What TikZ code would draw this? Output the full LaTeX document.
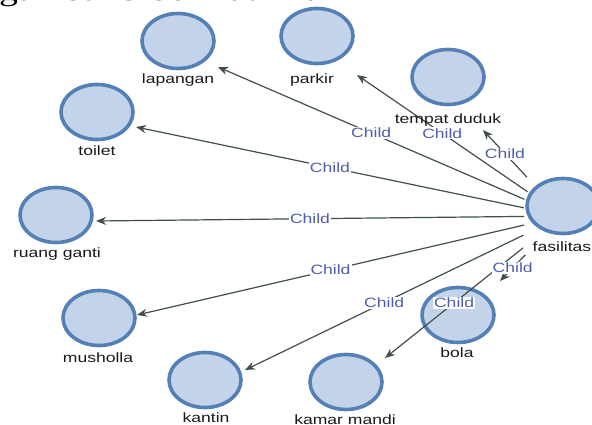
\documentclass[tikz,border=0pt]{standalone}
\usepackage{fontspec}
\setmainfont{Liberation Sans}
\newfontfamily\topserif{Liberation Serif}
\usepackage{graphicx}
\usetikzlibrary{shapes.geometric,arrows.meta,calc}
\definecolor{nodefill}{RGB}{194,211,234}
\definecolor{nodeline}{RGB}{84,128,182}
\definecolor{edgecol}{RGB}{64,80,72}
\definecolor{childcol}{RGB}{78,94,168}
\newcommand{\wide}[1]{\scalebox{1.3}[1]{#1}}
\tikzset{
  entity/.style={ellipse, draw=nodeline, fill=nodefill, line width=3.6pt,
    minimum width=72pt, minimum height=55pt, inner sep=0pt},
  namelbl/.style={font=\fontsize{13.5}{15}\selectfont, text=black!90, inner sep=0pt},
  rel/.style={draw=edgecol, line width=1.2pt, -{Stealth[length=10pt,width=8pt]}},
  childlbl/.style={font=\fontsize{13.5}{15}\selectfont, text=childcol, fill=white, inner sep=1pt},
}
\begin{document}
\begin{tikzpicture}[x=1pt,y=-1pt]
\useasboundingbox (0,0) rectangle (592,425);
\clip (0,0) rectangle (592,425);
% cut-off line of text at the top
\node[anchor=base west, inner sep=0pt, font=\topserif\fontsize{29}{30}\selectfont] (topline) at (-1,0.5) {\scalebox{1.3}[1]{gambar 9 berikut ini.}};
% entities
\node[entity] (lap) at (178,41) {};
\node[entity] (par) at (317,36) {};
\node[entity] (tem) at (448,77) {};
\node[entity] (toi) at (97,112) {};
\node[entity] (rua) at (56,215) {};
\node[entity] (mus) at (99,318) {};
\node[entity] (kan) at (205,380) {};
\node[entity] (kam) at (346,382) {};
\node[entity] (bol) at (458,315) {};
\node[entity] (fas) at (563,206) {};
% hub and tips
\coordinate (fasc) at (563,216);
\coordinate (tLap) at (218,67);
\coordinate (tPar) at (357,75);
\coordinate (tTem) at (483,130);
\coordinate (tToi) at (136,127);
\coordinate (tRua) at (96,221);
\coordinate (tMus) at (137,315);
\coordinate (tKan) at (245,370);
\coordinate (tKam) at (385,358);
\coordinate (tBol) at (500,281);
% edges
\draw[rel] ($(fasc)!42pt!(tLap)$) -- node[childlbl] {\wide{Child}} (tLap);
\draw[rel] ($(fasc)!43pt!(tPar)$) -- node[childlbl] {\wide{Child}} (tPar);
\draw[rel] ($(fasc)!53pt!(tTem)$) -- node[childlbl] {\wide{Child}} (tTem);
\draw[rel] ($(fasc)!40pt!(tToi)$) -- node[childlbl] {\wide{Child}} (tToi);
\draw[rel] ($(fasc)!39pt!(tRua)$) -- node[childlbl] {\wide{Child}} (tRua);
\draw[rel] ($(fasc)!40pt!(tMus)$) -- node[childlbl] {\wide{Child}} (tMus);
\draw[rel] ($(fasc)!44pt!(tKan)$) -- node[childlbl] {\wide{Child}} (tKan);
\draw[rel] ($(fasc)!51pt!(tKam)$) -- node[childlbl] {\wide{Child}} (tKam);
\draw[rel] ($(fasc)!54pt!(tBol)$) -- node[childlbl] {\wide{Child}} (tBol);
% labels
\node[namelbl] (nLap) at (178,80) {\wide{lapangan}};
\node[namelbl] (nPar) at (312,80) {\wide{parkir}};
\node[namelbl] (nTem) at (448,120) {\wide{tempat duduk}};
\node[namelbl] (nToi) at (97,151) {\wide{toilet}};
\node[namelbl] (nRua) at (57,254) {\wide{ruang ganti}};
\node[namelbl] (nMus) at (98,358) {\wide{musholla}};
\node[namelbl] (nKan) at (206,418) {\wide{kantin}};
\node[namelbl] (nKam) at (345,420) {\wide{kamar mandi}};
\node[namelbl] (nBol) at (457,353) {\wide{bola}};
\node[namelbl] (nFas) at (562,247) {\wide{fasilitas}};
\end{tikzpicture}
\end{document}
